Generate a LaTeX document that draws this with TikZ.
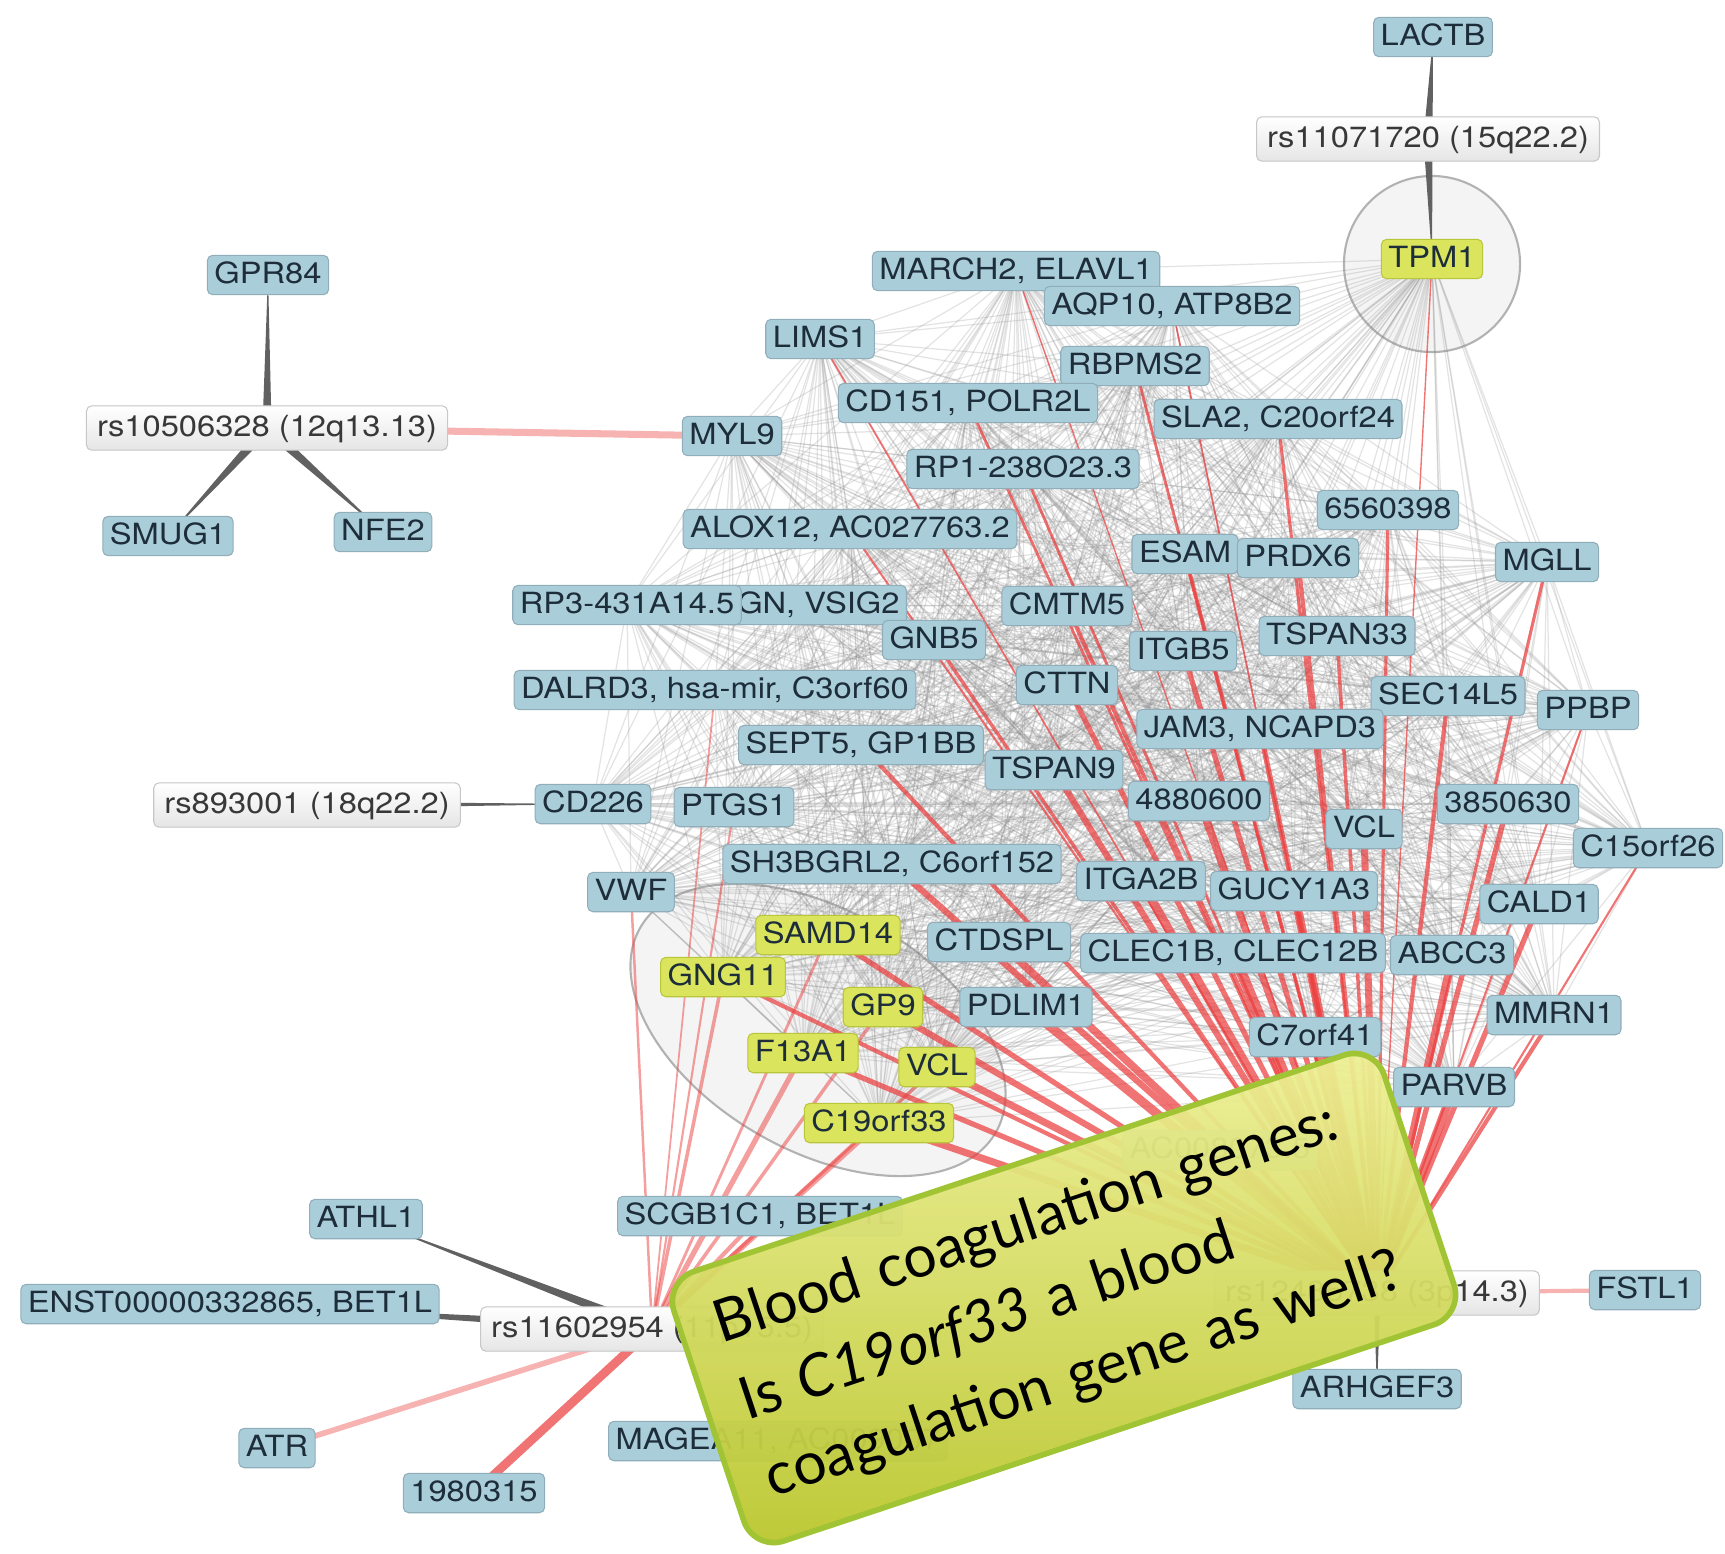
\documentclass[tikz,border=0pt]{standalone}
\usepackage{fontspec}
\usepackage{tikz}
\usetikzlibrary{calc, backgrounds}
\newfontfamily\genefont[FakeStretch=1.12]{TeX Gyre Heros}
\newfontfamily\notefont{Lato}
\definecolor{GeneBlue}{RGB}{170,205,218}
\definecolor{GeneText}{RGB}{30,45,58}
\definecolor{HitYellow}{RGB}{218,228,92}
\definecolor{HitEdge}{RGB}{185,198,60}
\definecolor{LinkRed}{RGB}{236,62,62}
\definecolor{NoteTop}{RGB}{238,240,150}
\definecolor{NoteBottom}{RGB}{186,198,44}
\definecolor{NoteEdge}{RGB}{160,196,52}

% tapered SNP-gene link: wide at #2, pointed at #3
\newcommand{\taper}[3][1.5pt]{%
  \fill[taperfill] ($(#2)!#1!90:(#3)$) -- ($(#2)!#1!-90:(#3)$) -- (#3.center) -- cycle;}

\begin{document}
\begin{tikzpicture}[x=0.01cm, y=-0.01cm,
    gene/.style={rectangle, rounded corners=1.5pt, fill=GeneBlue,
                 draw=GeneBlue!85!black, line width=0.3pt, text=GeneText,
                 font=\genefont\fontsize{8.3}{9}\selectfont,
                 inner xsep=2pt, inner ysep=1.6pt, text height=6.4pt, text depth=1.6pt},
    hit/.style={gene, fill=HitYellow, draw=HitEdge},
    snp/.style={gene, top color=white, bottom color=black!10, draw=black!22,
                text=black!78, inner xsep=3pt, inner ysep=2.3pt},
    ring/.style={fill=black!7, fill opacity=0.6, draw=black!30, line width=0.6pt},
    mesh/.style={draw=black!45, line width=0.35pt, opacity=0.24},
    link/.style={draw=LinkRed, opacity=0.72},
    faint/.style={draw=LinkRed!40, line width=1.6pt},
    taperfill/.style={fill=black!62},
    note/.style={rectangle, rounded corners=9pt, top color=NoteTop,
                 bottom color=NoteBottom, draw=NoteEdge, line width=1.6pt,
                 fill opacity=0.95, text opacity=1, minimum height=2.84cm,
                 text width=6.78cm, inner xsep=0.35cm, align=left,
                 font=\notefont\fontsize{16.7}{23}\selectfont}
  ]
  \clip (0,0) rectangle (1725,1553);

  % SNPs
  \node[snp] (snpb) at (1428,139) {rs11071720 (15q22.2)};
  \node[snp] (snpa) at (267,428) {rs10506328 (12q13.13)};
  \node[snp] (snpc) at (307,805) {rs893001 (18q22.2)};
  \node[snp] (snpe) at (652,1329) {rs11602954 (11p15.5)};
  \node[snp] (snpd) at (1377,1293) {rs12485738 (3p14.3)};

  % genes
  \node[gene] (lactb) at (1433,37) {LACTB};
  \node[hit] (tpm) at (1432,259) {TPM1};
  \node[gene] (gpr) at (268,275) {GPR84};
  \node[gene] (march) at (1016,271) {MARCH2, ELAVL1};
  \node[gene] (aqp) at (1172,306) {AQP10, ATP8B2};
  \node[gene] (lims) at (820,339) {LIMS1};
  \node[gene] (rbpms) at (1135,366) {RBPMS2};
  \node[gene] (cdp) at (968,403) {CD151, POLR2L};
  \node[gene] (sla) at (1278,419) {SLA2, C20orf24};
  \node[gene] (myl) at (732,436) {MYL9};
  \node[gene] (rpone) at (1023,469) {RP1-238O23.3};
  \node[gene] (nsix) at (1388,510) {6560398};
  \node[gene] (smug) at (168,536) {SMUG1};
  \node[gene] (nfe) at (383,532) {NFE2};
  \node[gene] (alox) at (850,529) {ALOX12, AC027763.2};
  \node[gene] (esam) at (1185,554) {ESAM};
  \node[gene] (prdx) at (1298,558) {PRDX6};
  \node[gene] (mgll) at (1547,562) {MGLL};
  \node[gene] (nrgn) at (795,605) {NRGN, VSIG2};
  \node[gene] (rpthree) at (627,605) {RP3-431A14.5};
  \node[gene] (cmtm) at (1067,606) {CMTM5};
  \node[gene] (gnb) at (934,640) {GNB5};
  \node[gene] (tsptt) at (1337,636) {TSPAN33};
  \node[gene] (itgb) at (1183,651) {ITGB5};
  \node[gene] (cttn) at (1067,685) {CTTN};
  \node[gene] (dalrd) at (715,690) {DALRD3, hsa-mir, C3orf60};
  \node[gene] (sec) at (1448,696) {SEC14L5};
  \node[gene] (ppbp) at (1588,710) {PPBP};
  \node[gene] (jam) at (1260,729) {JAM3, NCAPD3};
  \node[gene] (sept) at (861,745) {SEPT5, GP1BB};
  \node[gene] (tspn) at (1054,770) {TSPAN9};
  \node[gene] (cdtt) at (593,804) {CD226};
  \node[gene] (ptgs) at (734,807) {PTGS1};
  \node[gene] (neight) at (1199,801) {4880600};
  \node[gene] (nthree) at (1508,804) {3850630};
  \node[gene] (vclb) at (1364,829) {VCL};
  \node[gene] (cfift) at (1648,848) {C15orf26};
  \node[gene] (sh) at (892,864) {SH3BGRL2, C6orf152};
  \node[gene] (itga) at (1141,881) {ITGA2B};
  \node[gene] (gucy) at (1294,891) {GUCY1A3};
  \node[gene] (vwf) at (631,892) {VWF};
  \node[gene] (cald) at (1539,904) {CALD1};
  \node[hit] (samd) at (828,935) {SAMD14};
  \node[gene] (ctd) at (999,942) {CTDSPL};
  \node[gene] (clec) at (1233,953) {CLEC1B, CLEC12B};
  \node[gene] (abcc) at (1452,955) {ABCC3};
  \node[hit] (gng) at (723,977) {GNG11};
  \node[hit] (gpnine) at (883,1007) {GP9};
  \node[gene] (pdlim) at (1026,1007) {PDLIM1};
  \node[gene] (mmrn) at (1554,1015) {MMRN1};
  \node[gene] (cseven) at (1315,1037) {C7orf41};
  \node[hit] (fthree) at (803,1053) {F13A1};
  \node[hit] (vcly) at (937,1067) {VCL};
  \node[gene] (parvb) at (1454,1087) {PARVB};
  \node[hit] (cnine) at (879,1123) {C19orf33};
  \node[gene] (acz) at (1220,1150) {AC008073.5};
  \node[gene] (scgb) at (760,1216) {SCGB1C1, BET1L};
  \node[gene] (athl) at (366,1219) {ATHL1};
  \node[gene] (enst) at (230,1304) {ENST00000332865, BET1L};
  \node[gene] (fstl) at (1645,1290) {FSTL1};
  \node[gene] (arh) at (1377,1389) {ARHGEF3};
  \node[gene] (atr) at (277,1448) {ATR};
  \node[gene] (mage) at (778,1441) {MAGEA11, AC009007};
  \node[gene] (nnine) at (474,1493) {1980315};

  \begin{scope}[on background layer]
    % modules
    \filldraw[ring] (1432,264) circle [radius=0.88cm];
    \filldraw[ring, rotate around={-30:(818,1030)}] (818,1030)
          ellipse [x radius=2.05cm, y radius=1.2cm];

    % co-expression cloud
    \def\cloud{tpm,march,aqp,lims,rbpms,cdp,sla,myl,rpone,nsix,alox,esam,
      prdx,mgll,nrgn,rpthree,cmtm,gnb,itgb,tsptt,cttn,dalrd,sec,ppbp,jam,
      sept,tspn,cdtt,ptgs,neight,nthree,vclb,cfift,sh,itga,gucy,vwf,cald,
      samd,ctd,clec,abcc,gng,gpnine,pdlim,mmrn,cseven,fthree,vcly,parvb,cnine}
    \foreach \a [count=\i] in \cloud {
      \foreach \b [count=\j] in \cloud {
        \ifnum\j>\i \draw[mesh] (\a.center) -- (\b.center); \fi
      }
    }

    % 3p14.3 links
    \foreach \g/\w in {tpm/0.4, march/0.4, aqp/0.5, lims/0.5, rbpms/0.8,
        cdp/0.8, sla/0.9, rpone/0.8, nsix/0.9, alox/0.6, esam/1.0, prdx/1.2,
        mgll/0.9, cmtm/1.2, gnb/1.0, itgb/1.5, tsptt/1.0, cttn/1.5, sec/1.2,
        ppbp/0.6, jam/1.5, sept/1.2, tspn/1.8, neight/2.0, nthree/1.5,
        vclb/2.0, cfift/0.6, sh/1.8, itga/2.5, gucy/2.5, cald/1.5, ctd/2.2,
        clec/3.0, abcc/2.0, pdlim/2.6, mmrn/1.2, cseven/3.0, parvb/2.5,
        samd/1.5, gng/1.2, gpnine/1.8, fthree/1.5, vcly/2.0, cnine/2.0,
        acz/2.0} {
      \draw[link, line width=\w pt] (snpd.center) -- (\g.center);
    }
    \draw[faint, line width=1.2pt] (snpd.center) -- (fstl.center);

    % 11p15.5 links
    \foreach \g/\w in {vwf/0.7, gng/1.0, samd/0.8, fthree/1.5, cnine/1.5,
        gpnine/1.0, vcly/1.0, dalrd/0.5, ptgs/0.6, scgb/1.2} {
      \draw[link, line width=\w pt, opacity=0.5] (snpe.center) -- (\g.center);
    }
    \draw[link, line width=2.5pt] (snpe.center) -- (nnine.center);
    \draw[faint] (snpe.center) -- (atr.center);
    \draw[faint, line width=2pt] (snpa.center) -- (myl.center);

    % tapered links
    \taper[1.3pt]{snpb}{lactb}
    \taper[1.3pt]{snpb}{tpm}
    \taper[1.3pt]{snpa}{gpr}
    \taper{snpa}{smug}
    \taper{snpa}{nfe}
    \taper[1pt]{snpc}{cdtt}
    \taper{snpe}{athl}
    \taper{snpe}{enst}
    \taper[1pt]{snpd}{arh}
  \end{scope}

  % question
  \node[note, rotate=18.4] (note) at (1064,1298)
        {Blood coagulation genes:\\ Is \textit{C19orf33} a blood\\ coagulation gene as well?};
\end{tikzpicture}
\end{document}
